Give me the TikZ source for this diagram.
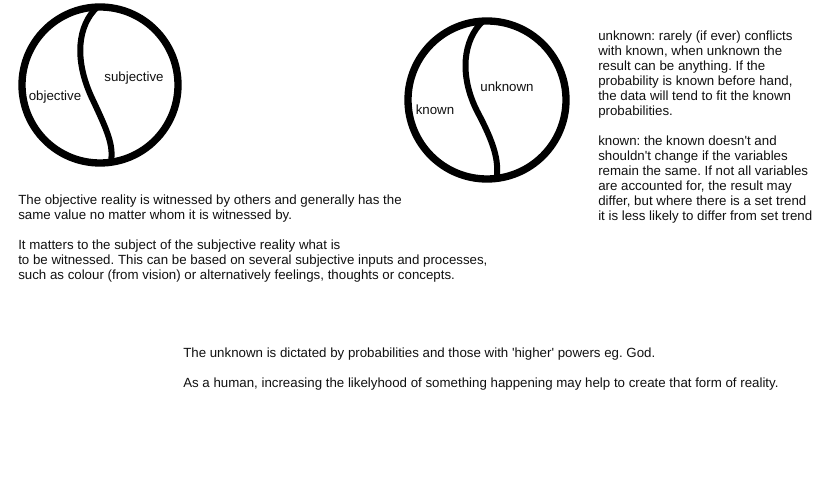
\documentclass[tikz,border=0pt]{standalone}
\usepackage{fontspec}
\setmainfont{Liberation Sans}
\usetikzlibrary{positioning}
\definecolor{SketchInk}{HTML}{000000}
\definecolor{NoteInk}{HTML}{111111}
\frenchspacing

\begin{document}
\begin{tikzpicture}[x=0.75pt, y=-0.75pt, font=\fontsize{9.97}{11.25}\selectfont]
\useasboundingbox[fill=white] (0,0) rectangle (831,495);
% objective / subjective
\node[draw=SketchInk, circle, line width=5.5pt, minimum size=117pt,
      inner sep=0pt, outer sep=0pt] (real) at (100,85) {};
\draw[SketchInk, line width=4.5pt, line cap=round]
  (real.92) .. controls (78,25) and (74,58) .. (91,96)
  .. controls (107,130) and (114,145) .. (real.-82);
\node[text=NoteInk, inner sep=0pt] (objlabel) at (55,97) {objective};
\node[text=NoteInk, inner sep=0pt] (subjlabel) at (134,78) {subjective};
% known / unknown
\node[draw=SketchInk, circle, line width=5.5pt, minimum size=118.5pt,
      inner sep=0pt, outer sep=0pt] (prob) at (487,100) {};
\draw[SketchInk, line width=4.5pt, line cap=round]
  (prob.93) .. controls (463,40) and (459,75) .. (477,111)
  .. controls (494,143) and (499,160) .. (prob.-83);
\node[text=NoteInk, inner sep=0pt] (knownlabel) at (435,110) {known};
\node[text=NoteInk, inner sep=0pt] (unknownlabel) at (507,87) {unknown};
% notes
\node[text=NoteInk, inner sep=0pt, anchor=north west, align=left] (probnote) at (598,30.5)
  {unknown: rarely (if ever) conflicts\\
   with known, when unknown the\\
   result can be anything. If the\\
   probability is known before hand,\\
   the data will tend to fit the known\\
   probabilities.\\[11.25pt]
   known: the known doesn\textquotesingle t and\\
   shouldn\textquotesingle t change if the variables\\
   remain the same. If not all variables\\
   are accounted for, the result may\\
   differ, but where there is a set trend\\
   it is less likely to differ from set trend};
\node[text=NoteInk, inner sep=0pt, anchor=north west, align=left] (realnote) at (18,194.5)
  {The objective reality is witnessed by others and generally has the\\
   same value no matter whom it is witnessed by.\\[11.25pt]
   It matters to the subject of the subjective reality what is\\
   to be witnessed. This can be based on several subjective inputs and processes,\\
   such as colour (from vision) or alternatively feelings, thoughts or concepts.};
\node[text=NoteInk, inner sep=0pt, anchor=north west, align=left] (godnote) at (183,347.5)
  {The unknown is dictated by probabilities and those with \textquotesingle higher\textquotesingle{} powers eg. God.\\[11.25pt]
   As a human, increasing the likelyhood of something happening may help to create that form of reality.};
\end{tikzpicture}
\end{document}
